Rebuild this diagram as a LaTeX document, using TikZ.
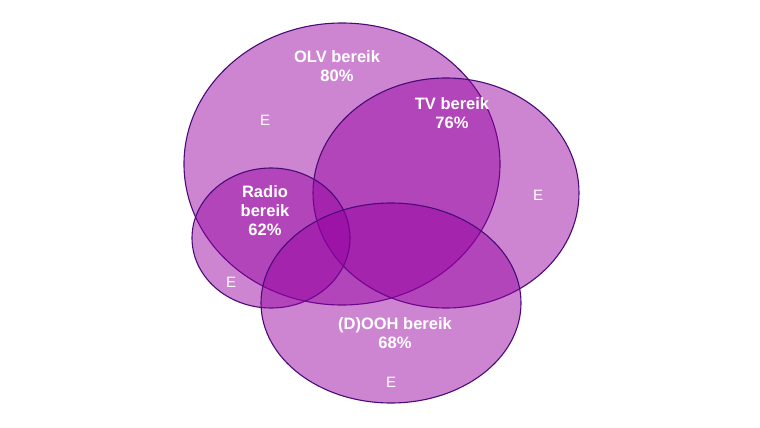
\documentclass[tikz,border=0pt]{standalone}
\usepackage{fontspec}
\setmainfont{Liberation Sans}
\definecolor{vfill}{RGB}{150,0,160}
\definecolor{vline}{RGB}{75,10,120}
\begin{document}
\begin{tikzpicture}[x=1pt,y=-1pt,
  venn/.style={fill=vfill,fill opacity=0.48,draw=vline,line width=1.1pt},
  lbl/.style={text=white,font=\bfseries\fontsize{16.5}{19}\selectfont,align=center},
  ee/.style={text=white,font=\fontsize{15}{17}\selectfont}]
\useasboundingbox (0,0) rectangle (760,428);
\path[venn] (342,164) ellipse [x radius=158,y radius=141];
\path[venn] (446,193) ellipse [x radius=133,y radius=115];
\path[venn] (271,238) ellipse [x radius=79,y radius=70];
\path[venn] (391,303) ellipse [x radius=130,y radius=100];
\node[lbl] (olv) at (337,66) {OLV bereik\\80\%};
\node[lbl] (tv) at (452,113) {TV bereik\\76\%};
\node[lbl] (radio) at (265,211) {Radio\\bereik\\62\%};
\node[lbl] (dooh) at (395,333) {(D)OOH bereik\\68\%};
\node[ee] (e1) at (265,120) {E};
\node[ee] (e2) at (538,195) {E};
\node[ee] (e3) at (231,282) {E};
\node[ee] (e4) at (391,382) {E};
\end{tikzpicture}
\end{document}
